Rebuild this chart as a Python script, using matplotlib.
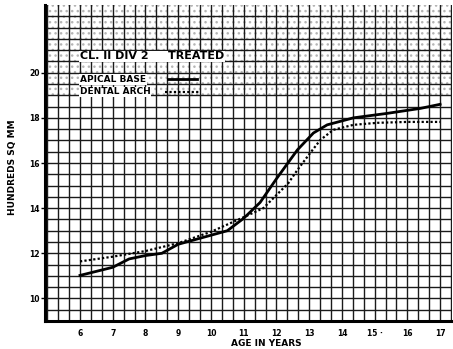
import numpy as np
import matplotlib.pyplot as plt
from matplotlib.patches import Rectangle

# growth curves (age in years, hundreds sq mm)
apical_age = [6, 7, 7.5, 8, 8.5, 9, 10, 10.5, 11, 11.5, 12, 12.64, 13.13, 13.55, 14.35, 15.39, 16.4, 17]
apical_val = [11.02, 11.38, 11.75, 11.9, 12.0, 12.4, 12.8, 13.0, 13.55, 14.25, 15.3, 16.58, 17.33, 17.69, 18.0, 18.2, 18.42, 18.6]

arch_age = [6, 7, 8, 9, 10, 11, 11.6, 12.36, 12.64, 13.03, 13.34, 13.74, 14.35, 15.08, 16.0, 17]
arch_val = [11.64, 11.85, 12.1, 12.45, 12.95, 13.6, 14.0, 15.1, 15.69, 16.44, 17.02, 17.47, 17.69, 17.78, 17.82, 17.82]

x_ticks = [6, 7, 8, 9, 10, 11, 12, 13, 14, 15, 16, 17]
x_tick_labels = ["6", "7", "8", "9", "10", "11", "12", "13", "14", "15 \u00b7", "16", "17"]
y_ticks = [10, 12, 14, 16, 18, 20]

fig = plt.figure(figsize=(4.53, 3.49), dpi=100)
ax = fig.add_axes([0.0993, 0.0802, 0.899, 0.9055])
ax.set_xlim(4.93, 17.37)
ax.set_ylim(9, 23)

# graph paper grid
for gx in np.arange(5, 17.4, 1 / 3):
    ax.axvline(gx, color="#1a1a1a", lw=1.0, zorder=1)
for gy in np.arange(9.5, 23, 0.5):
    ax.axhline(gy, color="#1a1a1a", lw=1.0, zorder=1)

# stippled band at the top of the sheet
ax.add_patch(Rectangle((4.93, 18.9), 12.5, 4.2, facecolor="none", edgecolor="#b5b5b5",
                       hatch="...", lw=0, zorder=0.5))

ax.plot(apical_age, apical_val, color="black", lw=2.0, zorder=3)
ax.plot(arch_age, arch_val, color="black", lw=1.6, ls=(0, (1, 1)), zorder=3)

# title and legend drawn on the sheet
tb = dict(facecolor="white", edgecolor="none", pad=0.5)
ax.text(6.0, 20.72, "CL. II DIV 2     TREATED", fontsize=8, fontweight="bold",
        va="center", ha="left", bbox=tb, zorder=4)
ax.text(6.0, 19.7, "APICAL BASE", fontsize=6.5, fontweight="bold",
        va="center", ha="left", bbox=tb, zorder=4)
ax.text(6.0, 19.15, "DENTAL ARCH", fontsize=6.5, fontweight="bold",
        va="center", ha="left", bbox=tb, zorder=4)
ax.plot([8.69, 9.58], [19.7, 19.7], color="black", lw=2.0, zorder=4)
ax.plot([8.6, 9.67], [19.13, 19.13], color="black", lw=1.6, ls=(0, (1, 1)), zorder=4)

ax.set_xticks(x_ticks)
ax.set_xticklabels(x_tick_labels, fontsize=5.5, fontweight="bold")
ax.set_yticks(y_ticks)
ax.set_yticklabels([str(v) for v in y_ticks], fontsize=5.5, fontweight="bold")
ax.tick_params(axis="x", length=0, pad=6)
ax.tick_params(axis="y", length=3, width=1, pad=1)

for s in ["left", "bottom"]:
    ax.spines[s].set_linewidth(2.2)
for s in ["top", "right"]:
    ax.spines[s].set_visible(False)

fig.text(0.027, 0.52, "HUNDREDS SQ MM", rotation=90, fontsize=6.5, fontweight="bold",
         ha="center", va="center")
fig.text(0.587, 0.017, "AGE IN YEARS", fontsize=6.5, fontweight="bold",
         ha="center", va="center")

fig.savefig("out.png", dpi=100)
